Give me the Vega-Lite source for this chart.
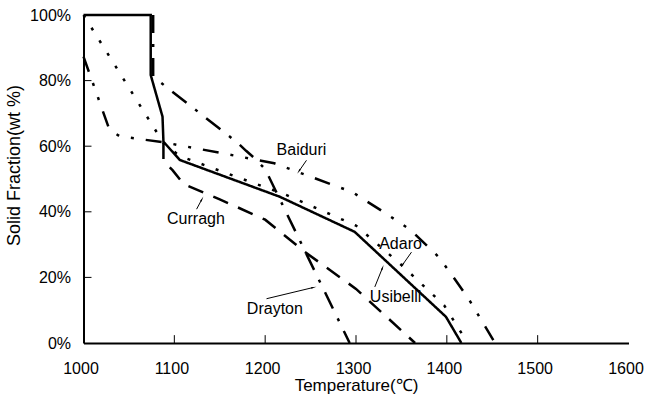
{
  "$schema": "https://vega.github.io/schema/vega-lite/v6.json",
  "width": 545,
  "height": 328,
  "autosize": {"type": "none"},
  "padding": {"left": 83.5, "top": 15, "right": 16.5, "bottom": 57},
  "background": "white",
  "config": {
    "view": {"stroke": null},
    "font": "Liberation Sans",
    "axis": {
      "grid": false,
      "ticks": false,
      "domainColor": "black",
      "domainWidth": 2,
      "labelColor": "black",
      "labelFontSize": 16,
      "labelFont": "Liberation Sans",
      "titleColor": "black",
      "titleFontSize": 17,
      "titleFontWeight": "normal",
      "titleFont": "Liberation Sans",
      "labelFlush": false,
      "labelOverlap": false
    }
  },
  "datasets": {
    "curves": [
      {"series": "Usibelli", "i": 0, "T": 1000, "pct": 100},
      {"series": "Usibelli", "i": 1, "T": 1074, "pct": 100},
      {"series": "Usibelli", "i": 2, "T": 1074, "pct": 81.7},
      {"series": "Usibelli", "i": 3, "T": 1087, "pct": 69},
      {"series": "Usibelli", "i": 4, "T": 1088, "pct": 61.4},
      {"series": "Usibelli", "i": 5, "T": 1106, "pct": 55.8},
      {"series": "Usibelli", "i": 6, "T": 1216, "pct": 44.6},
      {"series": "Usibelli", "i": 7, "T": 1298.5, "pct": 33.9},
      {"series": "Usibelli", "i": 8, "T": 1399, "pct": 8},
      {"series": "Usibelli", "i": 9, "T": 1416, "pct": 0},
      {"series": "Adaro", "i": 0, "T": 1000, "pct": 100},
      {"series": "Adaro", "i": 1, "T": 1088, "pct": 61},
      {"series": "Adaro", "i": 2, "T": 1106, "pct": 57},
      {"series": "Adaro", "i": 3, "T": 1160, "pct": 51.5},
      {"series": "Adaro", "i": 4, "T": 1220, "pct": 45.5},
      {"series": "Adaro", "i": 5, "T": 1300, "pct": 35.8},
      {"series": "Adaro", "i": 6, "T": 1350, "pct": 23.8},
      {"series": "Adaro", "i": 7, "T": 1397, "pct": 11.5},
      {"series": "Adaro", "i": 8, "T": 1423, "pct": 0},
      {"series": "Baiduri", "i": 0, "T": 1000, "pct": 87.3},
      {"series": "Baiduri", "i": 1, "T": 1028.6, "pct": 65},
      {"series": "Baiduri", "i": 2, "T": 1040, "pct": 63},
      {"series": "Baiduri", "i": 3, "T": 1088, "pct": 61.2},
      {"series": "Baiduri", "i": 4, "T": 1150, "pct": 58},
      {"series": "Baiduri", "i": 5, "T": 1210, "pct": 54.8},
      {"series": "Baiduri", "i": 6, "T": 1296, "pct": 46},
      {"series": "Baiduri", "i": 7, "T": 1330, "pct": 40},
      {"series": "Baiduri", "i": 8, "T": 1360, "pct": 34.5},
      {"series": "Baiduri", "i": 9, "T": 1390, "pct": 26.5},
      {"series": "Baiduri", "i": 10, "T": 1405, "pct": 21},
      {"series": "Baiduri", "i": 11, "T": 1425, "pct": 13},
      {"series": "Baiduri", "i": 12, "T": 1453, "pct": 0},
      {"series": "Curragh", "i": 0, "T": 1088, "pct": 61},
      {"series": "Curragh", "i": 1, "T": 1088, "pct": 55.5},
      {"series": "Curragh", "i": 2, "T": 1098, "pct": 52.7},
      {"series": "Curragh", "i": 3, "T": 1110, "pct": 48.5},
      {"series": "Curragh", "i": 4, "T": 1150, "pct": 43.8},
      {"series": "Curragh", "i": 5, "T": 1200, "pct": 37.6},
      {"series": "Curragh", "i": 6, "T": 1245, "pct": 27.5},
      {"series": "Curragh", "i": 7, "T": 1300, "pct": 16.5},
      {"series": "Curragh", "i": 8, "T": 1365, "pct": 0},
      {"series": "Drayton", "i": 0, "T": 1076.7, "pct": 100},
      {"series": "Drayton", "i": 1, "T": 1076.7, "pct": 81.2},
      {"series": "Drayton", "i": 2, "T": 1168.5, "pct": 61.3},
      {"series": "Drayton", "i": 3, "T": 1179, "pct": 58.6},
      {"series": "Drayton", "i": 4, "T": 1188, "pct": 56.4},
      {"series": "Drayton", "i": 5, "T": 1200, "pct": 53},
      {"series": "Drayton", "i": 6, "T": 1293, "pct": 0}
    ],
    "arrows": [
      {"label": "Baiduri", "T": 1245.5, "pct": 55.7, "T2": 1237.5, "pct2": 52.5, "ang": 214},
      {"label": "Curragh", "T": 1124.5, "pct": 40.8, "T2": 1130.1, "pct2": 43.7, "ang": 28},
      {"label": "Adaro", "T": 1361.1, "pct": 27.7, "T2": 1351.4, "pct2": 23.9, "ang": 215},
      {"label": "Usibelli", "T": 1320.7, "pct": 17.1, "T2": 1329.0, "pct2": 22.8, "ang": 22},
      {"label": "Drayton", "T": 1201.5, "pct": 13.5, "T2": 1252.6, "pct2": 16.9, "ang": 76}
    ],
    "labels": [
      {"label": "Baiduri", "T": 1240, "pct": 58.75},
      {"label": "Curragh", "T": 1123.8, "pct": 37.9},
      {"label": "Adaro", "T": 1349, "pct": 30.3},
      {"label": "Usibelli", "T": 1343.6, "pct": 14.0},
      {"label": "Drayton", "T": 1210.7, "pct": 10.5}
    ],
    "xticks": [
      {"T": 1100, "pct": 0, "pct2": 2.4},
      {"T": 1200, "pct": 0, "pct2": 2.4},
      {"T": 1300, "pct": 0, "pct2": 2.4},
      {"T": 1400, "pct": 0, "pct2": 2.4},
      {"T": 1500, "pct": 0, "pct2": 2.4}
    ],
    "yticks": [
      {"T": 1000, "T2": 1008.8, "pct": 20},
      {"T": 1000, "T2": 1008.8, "pct": 40},
      {"T": 1000, "T2": 1008.8, "pct": 60},
      {"T": 1000, "T2": 1008.8, "pct": 80}
    ]
  },
  "encoding": {
    "x": {
      "field": "T",
      "type": "quantitative",
      "scale": {"domain": [1000, 1600], "nice": false, "zero": false},
      "axis": {
        "title": "Temperature(℃)",
        "values": [1000, 1100, 1200, 1300, 1400, 1500, 1600],
        "format": "d",
        "labelPadding": 17,
        "labelOffset": -3,
        "titleY": 42,
        "titleBaseline": "middle"
      }
    },
    "y": {
      "field": "pct",
      "type": "quantitative",
      "scale": {"domain": [0, 100], "nice": false},
      "axis": {
        "title": "Solid Fraction(wt %)",
        "values": [0, 20, 40, 60, 80, 100],
        "labelExpr": "datum.value + '%'",
        "labelPadding": 13,
        "titleFontSize": 18,
        "titleX": -69,
        "titleY": 150,
        "titleAngle": 270,
        "titleAlign": "center",
        "titleBaseline": "middle"
      }
    }
  },
  "layer": [
    {
      "data": {"name": "xticks"},
      "mark": {"type": "rule", "color": "black", "strokeWidth": 1},
      "encoding": {"y2": {"field": "pct2"}}
    },
    {
      "data": {"name": "yticks"},
      "mark": {"type": "rule", "color": "black", "strokeWidth": 1},
      "encoding": {"x2": {"field": "T2"}}
    },
    {
      "data": {"name": "curves"},
      "mark": {"type": "line", "color": "black", "strokeWidth": 2.5, "strokeCap": "butt", "strokeJoin": "miter"},
      "encoding": {
        "detail": {"field": "series", "type": "nominal"},
        "order": {"field": "i", "type": "quantitative"},
        "strokeDash": {
          "field": "series",
          "type": "nominal",
          "scale": {
            "domain": ["Usibelli", "Adaro", "Baiduri", "Curragh", "Drayton"],
            "range": [[1, 0], [3, 12], [16, 12, 3, 12, 3, 12], [16, 11], [18, 11, 3, 11]]
          },
          "legend": null
        }
      }
    },
    {
      "data": {"name": "arrows"},
      "mark": {"type": "rule", "color": "black", "strokeWidth": 1},
      "encoding": {
        "x2": {"field": "T2"},
        "y2": {"field": "pct2"}
      }
    },
    {
      "data": {"name": "arrows"},
      "mark": {"type": "point", "shape": "wedge", "filled": true, "color": "black", "size": 40, "opacity": 1},
      "encoding": {
        "x": {"field": "T2", "type": "quantitative"},
        "y": {"field": "pct2", "type": "quantitative"},
        "angle": {"field": "ang", "type": "quantitative", "scale": null}
      }
    },
    {
      "data": {"name": "labels"},
      "mark": {"type": "text", "fontSize": 16, "font": "Liberation Sans", "color": "black", "align": "center", "baseline": "middle"},
      "encoding": {
        "text": {"field": "label"}
      }
    }
  ]
}
